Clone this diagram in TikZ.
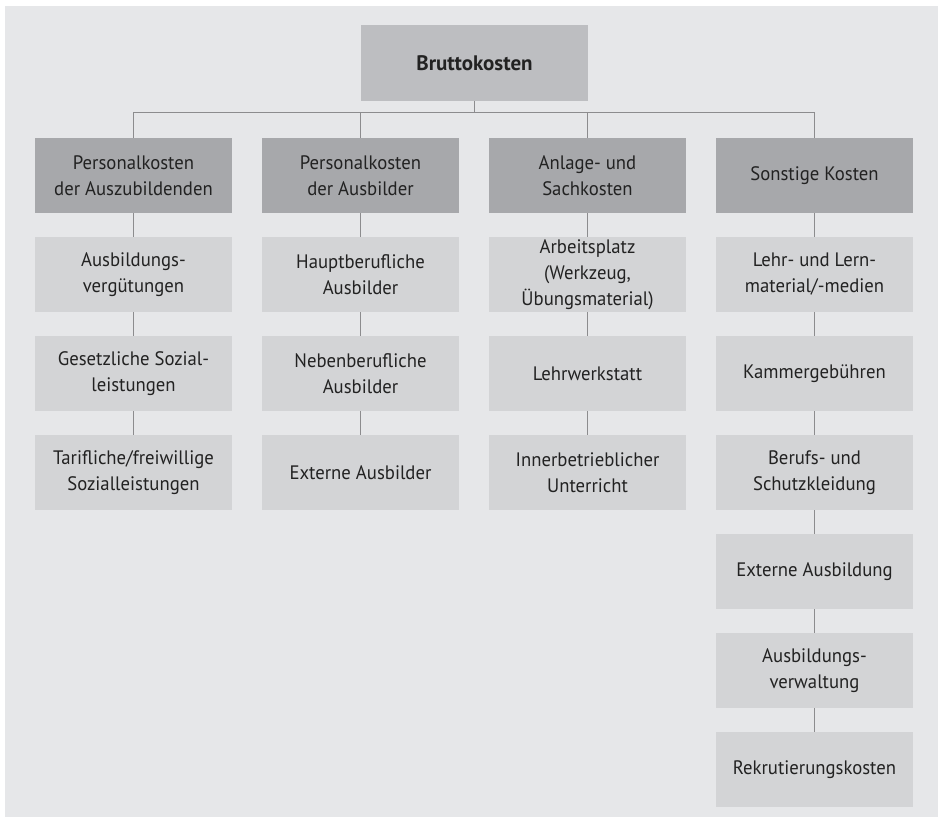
\documentclass[tikz,border=0pt]{standalone}
\usepackage{fontspec}
\setmainfont{PT Sans}[FakeStretch=0.96]
\newfontfamily\titlefont{PT Sans}
\definecolor{panel}{HTML}{E6E7E9}
\definecolor{topfill}{HTML}{BDBEC1}
\definecolor{midfill}{HTML}{A7A8AB}
\definecolor{lowfill}{HTML}{D3D4D6}
\definecolor{linec}{HTML}{8C8C8E}
\definecolor{txt}{HTML}{222222}
\tikzset{
  base/.style={inner sep=0pt, minimum width=197pt, minimum height=75pt, align=center, text=txt,
    font=\fontsize{19.5pt}{26pt}\selectfont},
  topbox/.style={base, fill=topfill, minimum width=227pt, minimum height=76pt, font=\titlefont\fontsize{21pt}{26pt}\selectfont\bfseries},
  headbox/.style={base, fill=midfill},
  itembox/.style={base, fill=lowfill},
  conn/.style={draw=linec, line width=1pt}
}
\begin{document}
\begin{tikzpicture}[x=1pt,y=-1pt]
\useasboundingbox (0,0) rectangle (940,817);
\fill[panel] (5,6) rectangle (938,817);
\coordinate (bus) at (0,112);
\node[topbox] (brutto) at (474.5,63) {Bruttokosten};
% level 1
\node[headbox] (h1) at (133.5,175.5) {Personalkosten\\der Auszubildenden};
\node[headbox] (h2) at (360.5,175.5) {Personalkosten\\der Ausbilder};
\node[headbox] (h3) at (587.5,175.5) {Anlage- und\\Sachkosten};
\node[headbox] (h4) at (814.5,175.5) {Sonstige Kosten};
% column 1
\node[itembox] (a1) at (133.5,274.5) {Ausbildungs-\\vergütungen};
\node[itembox] (a2) at (133.5,373.5) {Gesetzliche Sozial-\\leistungen};
\node[itembox] (a3) at (133.5,472.5) {Tarifliche/freiwillige\\Sozialleistungen};
% column 2
\node[itembox] (b1) at (360.5,274.5) {Hauptberufliche\\Ausbilder};
\node[itembox] (b2) at (360.5,373.5) {Nebenberufliche\\Ausbilder};
\node[itembox] (b3) at (360.5,472.5) {Externe Ausbilder};
% column 3
\node[itembox] (c1) at (587.5,274.5) {Arbeitsplatz\\(Werkzeug,\\Übungsmaterial)};
\node[itembox] (c2) at (587.5,373.5) {Lehrwerkstatt};
\node[itembox] (c3) at (587.5,472.5) {Innerbetrieblicher\\Unterricht};
% column 4
\node[itembox] (d1) at (814.5,274.5) {Lehr- und Lern-\\material/-medien};
\node[itembox] (d2) at (814.5,373.5) {Kammergebühren};
\node[itembox] (d3) at (814.5,472.5) {Berufs- und\\Schutzkleidung};
\node[itembox] (d4) at (814.5,571.5) {Externe Ausbildung};
\node[itembox] (d5) at (814.5,670.5) {Ausbildungs-\\verwaltung};
\node[itembox] (d6) at (814.5,769.5) {Rekrutierungskosten};
% connectors
\draw[conn] (brutto.south) -- (brutto.south |- bus);
\draw[conn] (h1.north) |- (bus -| h4.north) -- (h4.north);
\draw[conn] (bus -| h2.north) -- (h2.north);
\draw[conn] (bus -| h3.north) -- (h3.north);
\foreach \u/\v in {h1/a1,a1/a2,a2/a3,h2/b1,b1/b2,b2/b3,h3/c1,c1/c2,c2/c3,h4/d1,d1/d2,d2/d3,d3/d4,d4/d5,d5/d6}
  \draw[conn] (\u.south) -- (\v.north);
\end{tikzpicture}
\end{document}
